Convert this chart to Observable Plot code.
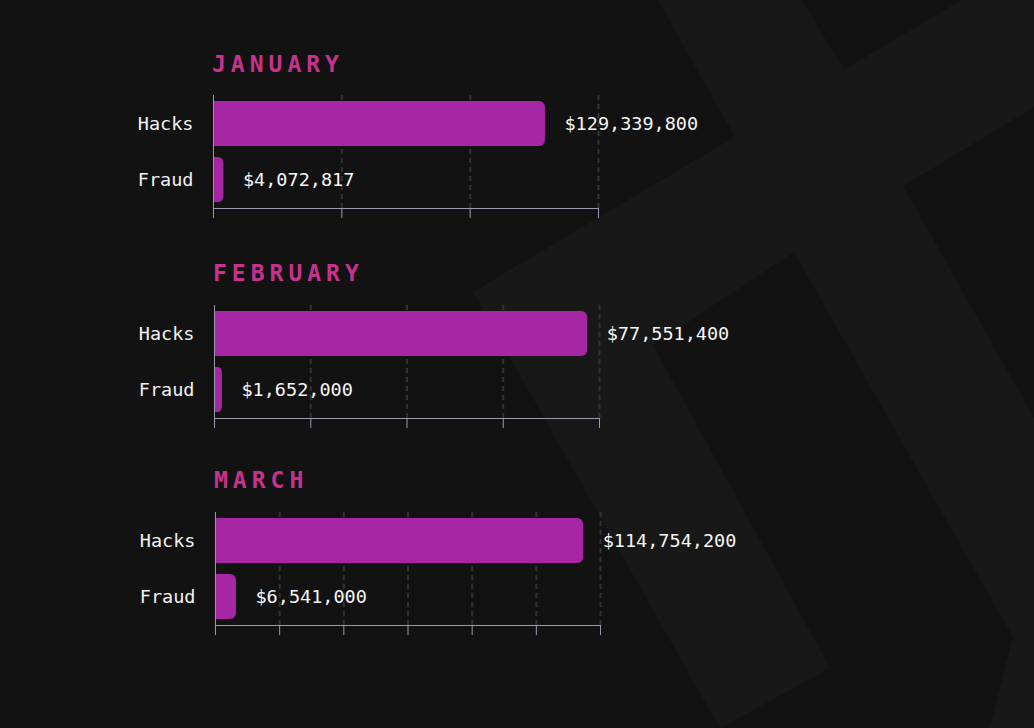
<!DOCTYPE html>
<html>
<head>
<meta charset="utf-8">
<script src="https://cdn.jsdelivr.net/npm/d3@7"></script>
<script src="https://cdn.jsdelivr.net/npm/@observablehq/plot@0.6"></script>
<style>
  html, body { margin: 0; padding: 0; background: #121212; }
  #stage { position: relative; width: 1034px; height: 728px; overflow: hidden; background: #121212; }
  #bg { position: absolute; left: 0; top: 0; }
  .title { position: absolute; font-family: "DejaVu Sans Mono", monospace; font-weight: bold;
           font-size: 23px; line-height: 23px; letter-spacing: 5px; color: #c8328e; white-space: nowrap; }
  .chart { position: absolute; }
</style>
</head>
<body>
<div id="stage">
  <svg id="bg" width="1034" height="728" viewBox="0 0 1034 728" shape-rendering="crispEdges">
    <path fill="#181818" d="M658,0 L802,0 L844,70 L962,0 L1034,0 L1034,107 L903,186 L1034,418 L1034,728 L990,728 L1013,637 L794,252 L653,345 L830,668 L720,728 L473,292 L735,137 Z"/>
  </svg>
</div>
<script>
// ---- data ----
const months = ["JANUARY", "FEBRUARY", "MARCH"];
const categories = ["Hacks", "Fraud"];
const hacks = [129339800, 77551400, 114754200];
const fraud = [4072817, 1652000, 6541000];
const axisMax = [150e6, 80e6, 120e6];
const tickStep = [50e6, 20e6, 20e6];

// ---- layout ----
const frameTops = [95, 305, 512];
const titleTops = [53, 262, 469];
const leftShift = [0, 1, 2];

const stage = document.getElementById("stage");
const fmt = d3.format(",");
const barColor = "#a626a4";
const axisColor = "#979ab0";
const gridColor = "#333333";
const font = "'DejaVu Sans Mono', monospace";

months.forEach((m, i) => {
  const rows = [
    {category: categories[0], value: hacks[i]},
    {category: categories[1], value: fraud[i]}
  ];
  const ticks = d3.range(0, axisMax[i] + 1, tickStep[i]);

  const title = document.createElement("div");
  title.className = "title";
  title.textContent = m;
  title.style.top = titleTops[i] + "px";
  title.style.left = (212 + leftShift[i]) + "px";
  stage.appendChild(title);

  const marginTop = 5;
  const chart = Plot.plot({
    width: 700,
    height: 133,
    marginLeft: 213,
    marginRight: 102,
    marginTop,
    marginBottom: 15,
    style: {background: "transparent", color: "#f2f2f2", fontFamily: font, fontSize: "18.5px", overflow: "visible"},
    x: {domain: [0, axisMax[i]], axis: null},
    y: {domain: categories, paddingInner: 0.2, paddingOuter: 0.1, axis: null},
    marks: [
      Plot.ruleX(ticks.filter(t => t > 0), {stroke: gridColor, strokeWidth: 2, strokeDasharray: "5,4"}),
      Plot.barX(rows, {y: "category", x: "value", fill: barColor, rx: 6}),
      Plot.barX(rows, {y: "category", x1: 0, x2: d => d.value / 2, fill: barColor}),
      Plot.frame({anchor: "bottom", stroke: axisColor}),
      Plot.ruleX([0], {stroke: axisColor}),
      Plot.axisX({ticks, tickSize: 10, tickFormat: () => "", stroke: axisColor, label: null}),
      Plot.axisY({tickSize: 0, tickPadding: 20, fill: "#f2f2f2", fontSize: "18.5px", label: null}),
      Plot.text(rows, {y: "category", x: "value", text: d => "$" + fmt(d.value), dx: 19,
        textAnchor: "start", fill: "#f7f7f7", fontSize: "18.5px"})
    ]
  });
  chart.classList.add("chart");
  chart.style.top = (frameTops[i] - marginTop) + "px";
  chart.style.left = leftShift[i] + "px";
  stage.appendChild(chart);
});
</script>
</body>
</html>
